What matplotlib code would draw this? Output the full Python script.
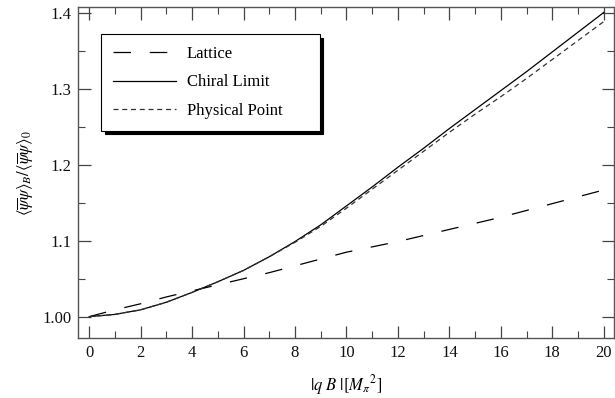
import matplotlib
matplotlib.use("Agg")
import matplotlib.pyplot as plt
from matplotlib.ticker import MultipleLocator, FixedLocator

plt.rcParams['font.family'] = ['Liberation Serif', 'DejaVu Serif']
plt.rcParams['mathtext.fontset'] = 'stix'

# |qB| in units of M_pi^2
qb = [0, 1, 2, 3, 4, 5, 6, 7, 8, 9, 10, 11, 12, 13, 14, 15, 16, 17, 18, 19, 20]

lattice = [1.000, 1.009, 1.017, 1.026, 1.034, 1.042, 1.050, 1.058, 1.067, 1.076, 1.085,
           1.092, 1.099, 1.107, 1.115, 1.123, 1.131, 1.140, 1.149, 1.158, 1.167]
chiral = [1.000, 1.003, 1.009, 1.019, 1.032, 1.046, 1.061, 1.079, 1.099, 1.121, 1.146,
          1.171, 1.197, 1.222, 1.248, 1.273, 1.298, 1.323, 1.349, 1.375, 1.401]
physical = [1.000, 1.003, 1.009, 1.019, 1.032, 1.046, 1.061, 1.079, 1.098, 1.119, 1.143,
            1.168, 1.193, 1.218, 1.243, 1.267, 1.290, 1.314, 1.339, 1.364, 1.389]

y_ticks = [1.00, 1.1, 1.2, 1.3, 1.4]
y_labels = ["1.00", "1.1", "1.2", "1.3", "1.4"]

fig = plt.figure(figsize=(6.15, 3.98), dpi=100)
ax = fig.add_axes([0.127, 0.151, 0.871, 0.831])

ax.plot(qb, lattice, color='black', lw=0.9, dashes=(14, 15), label='Lattice')
ax.plot(qb, chiral, color='black', lw=0.9, label='Chiral Limit')
ax.plot(qb, physical, color='#333333', lw=0.9, dashes=(4, 3), label='Physical Point')

ax.set_xlim(-0.43, 20.39)
ax.set_ylim(0.972, 1.408)

ax.xaxis.set_major_locator(MultipleLocator(2))
ax.xaxis.set_minor_locator(MultipleLocator(1))
ax.yaxis.set_major_locator(FixedLocator(y_ticks))
ax.yaxis.set_minor_locator(FixedLocator([1.05, 1.15, 1.25, 1.35]))
ax.set_yticklabels(y_labels)

ax.tick_params(which='both', direction='in', top=True, right=True,
               color='#444444', labelsize=12, labelcolor='#111111')
ax.tick_params(which='major', length=9, width=0.9, pad=5)
ax.tick_params(which='minor', length=5, width=0.8)
for s in ax.spines.values():
    s.set_color('#555555')
    s.set_linewidth(1.0)

ax.set_xlabel(r'$|q\ B\ |[M_{\pi}{}^{2}]$', fontsize=12, labelpad=9)
ax.set_ylabel(r'$\langle\overline{\psi}\psi\rangle_B/\langle\overline{\psi}\psi\rangle_0$',
              fontsize=12, labelpad=4)

leg = ax.legend(loc='upper left', bbox_to_anchor=(0.043, 0.634, 0.408, 0.284),
                mode='expand', borderaxespad=0, fancybox=False, fontsize=12,
                handlelength=3.8, handletextpad=0.65, labelspacing=0.75,
                borderpad=0.7, shadow={'color': 'black', 'alpha': 1, 'ox': 2.5, 'oy': -2.5})
leg.get_frame().set_edgecolor('black')
leg.get_frame().set_linewidth(0.8)

fig.savefig('out.png', dpi=100)
